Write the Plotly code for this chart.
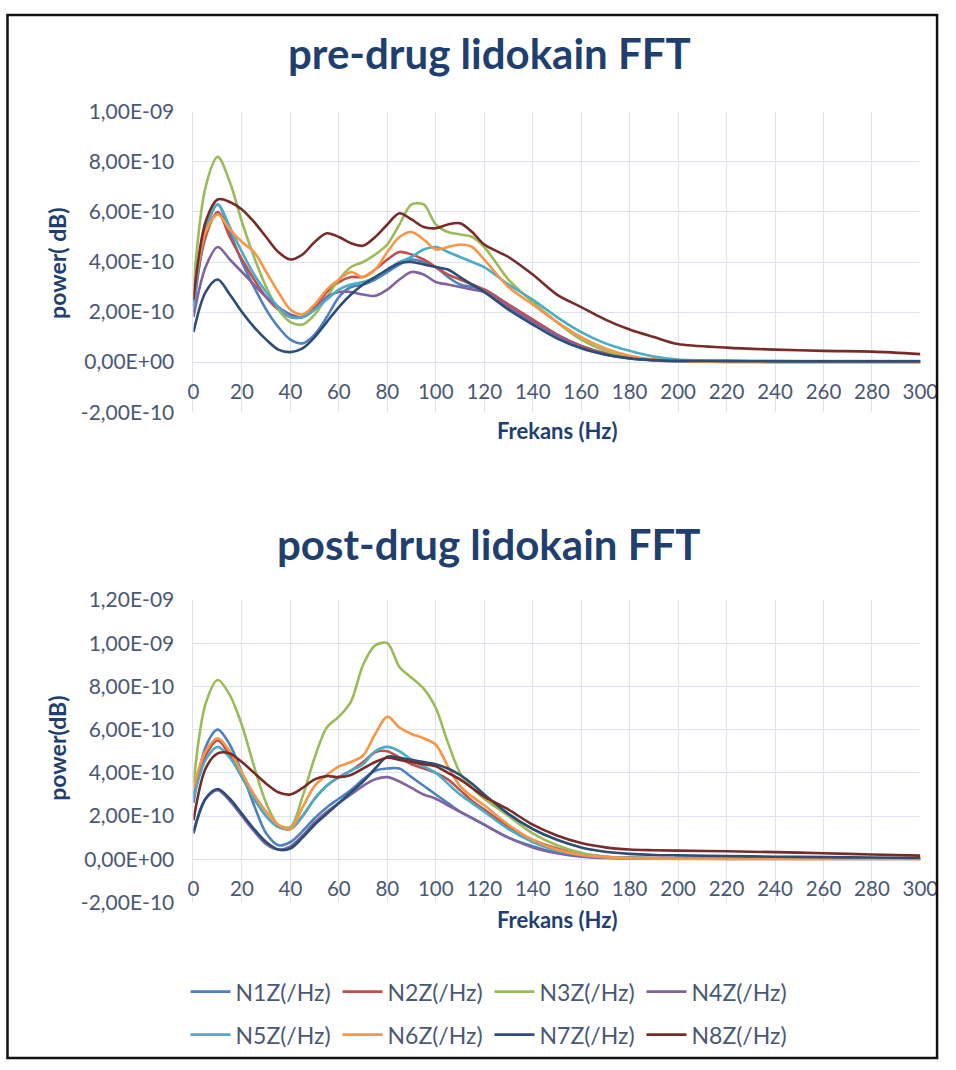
import plotly.graph_objects as go

# Frequency grid (Hz)
freq = [0, 5, 10, 15, 20, 25, 30, 35, 40, 45, 50, 55, 60, 65, 70, 75, 80, 85, 90, 95,
        100, 105, 110, 115, 120, 130, 140, 150, 160, 170, 180, 190, 200, 220, 240, 260, 280, 300]

series_names = ["N1Z(/Hz)", "N2Z(/Hz)", "N3Z(/Hz)", "N4Z(/Hz)",
                "N5Z(/Hz)", "N6Z(/Hz)", "N7Z(/Hz)", "N8Z(/Hz)"]

# Pre-drug spectra, units of 1E-10
pre_n1 = [2.0, 5.2, 6.3, 5.2, 4.0, 3.0, 2.1, 1.4, 0.9, 0.75, 1.1, 1.8, 2.6, 3.0, 3.1, 3.3, 3.6, 3.9, 4.1, 4.0,
          3.8, 3.4, 3.1, 3.0, 2.9, 2.3, 1.7, 1.1, 0.65, 0.35, 0.18, 0.1, 0.06, 0.04, 0.03, 0.03, 0.02, 0.02]
pre_n2 = [2.4, 5.0, 6.0, 5.0, 4.1, 3.3, 2.6, 2.1, 1.8, 1.8, 2.2, 2.8, 3.2, 3.4, 3.4, 3.7, 4.1, 4.4, 4.3, 4.1,
          3.8, 3.5, 3.3, 3.1, 2.9, 2.3, 1.7, 1.1, 0.65, 0.35, 0.18, 0.08, 0.04, 0.03, 0.02, 0.02, 0.02, 0.02]
pre_n3 = [3.0, 7.0, 8.2, 7.2, 5.6, 4.2, 3.0, 2.1, 1.6, 1.5, 1.9, 2.6, 3.3, 3.8, 4.0, 4.3, 4.7, 5.5, 6.3, 6.3,
          5.5, 5.2, 5.1, 5.0, 4.6, 3.3, 2.4, 1.6, 0.9, 0.45, 0.2, 0.08, 0.04, 0.03, 0.03, 0.02, 0.02, 0.02]
pre_n4 = [1.8, 3.8, 4.6, 4.1, 3.6, 3.1, 2.6, 2.2, 1.9, 1.8, 2.1, 2.6, 2.8, 2.8, 2.7, 2.65, 2.9, 3.3, 3.6, 3.5,
          3.2, 3.1, 3.0, 2.9, 2.8, 2.2, 1.6, 1.05, 0.6, 0.3, 0.15, 0.07, 0.04, 0.03, 0.02, 0.02, 0.02, 0.02]
pre_n5 = [2.2, 5.3, 6.3, 5.4, 4.4, 3.5, 2.8, 2.2, 1.8, 1.8, 2.1, 2.5, 2.9, 3.1, 3.2, 3.4, 3.7, 4.0, 4.2, 4.5,
          4.6, 4.4, 4.2, 4.0, 3.8, 3.1, 2.5, 1.8, 1.2, 0.75, 0.45, 0.22, 0.1, 0.06, 0.05, 0.04, 0.04, 0.04]
pre_n6 = [2.6, 5.2, 5.9, 5.3, 4.8, 4.4, 3.6, 2.8, 2.1, 1.9, 2.3, 2.9, 3.3, 3.6, 3.4, 3.7, 4.4, 5.0, 5.2, 4.9,
          4.5, 4.6, 4.7, 4.6, 4.1, 3.0, 2.3, 1.6, 1.0, 0.55, 0.25, 0.1, 0.05, 0.0, -0.01, -0.01, -0.01, -0.01]
pre_n7 = [1.2, 2.8, 3.3, 2.7, 2.0, 1.4, 0.9, 0.5, 0.4, 0.55, 1.0, 1.6, 2.2, 2.7, 3.1, 3.4, 3.7, 3.95, 4.0, 3.9,
          3.8, 3.7, 3.4, 3.1, 2.8, 2.1, 1.5, 0.95, 0.55, 0.3, 0.15, 0.08, 0.05, 0.04, 0.03, 0.03, 0.03, 0.03]
pre_n8 = [2.5, 5.6, 6.5, 6.4, 6.1, 5.6, 5.0, 4.4, 4.1, 4.3, 4.8, 5.15, 5.0, 4.75, 4.65, 5.0, 5.5, 5.95, 5.7, 5.4,
          5.35, 5.5, 5.55, 5.2, 4.7, 4.2, 3.5, 2.7, 2.2, 1.7, 1.3, 1.0, 0.72, 0.58, 0.5, 0.45, 0.42, 0.32]

# Post-drug spectra, units of 1E-10
post_n1 = [2.6, 5.2, 6.0, 5.3, 4.0, 2.5, 1.2, 0.65, 0.8, 1.3, 1.9, 2.4, 2.8, 3.2, 3.7, 4.1, 4.2, 4.2, 3.8, 3.4,
           3.0, 2.6, 2.2, 1.9, 1.6, 1.0, 0.6, 0.3, 0.15, 0.08, 0.05, 0.04, 0.04, 0.03, 0.03, 0.03, 0.03, 0.03]
post_n2 = [3.0, 4.8, 5.5, 4.8, 3.8, 2.8, 2.0, 1.5, 1.4, 2.0, 2.8, 3.4, 3.8, 4.1, 4.5, 4.95, 5.0, 4.7, 4.4, 4.2,
           4.0, 3.7, 3.2, 2.7, 2.3, 1.5, 0.9, 0.5, 0.25, 0.12, 0.08, 0.06, 0.05, 0.04, 0.04, 0.03, 0.03, 0.03]
post_n3 = [3.5, 7.2, 8.3, 7.6, 6.2, 4.3, 2.6, 1.6, 1.5, 2.9, 4.7, 6.1, 6.6, 7.3, 9.0, 9.9, 10.0, 8.9, 8.4, 7.9,
           7.0, 5.4, 4.0, 3.3, 2.8, 2.0, 1.2, 0.65, 0.3, 0.12, 0.06, 0.05, 0.04, 0.04, 0.03, 0.03, 0.03, 0.03]
post_n4 = [1.3, 2.8, 3.2, 2.7, 2.0, 1.3, 0.7, 0.45, 0.6, 1.1, 1.7, 2.2, 2.6, 3.0, 3.4, 3.7, 3.8, 3.6, 3.3, 3.0,
           2.8, 2.5, 2.2, 1.9, 1.6, 1.0, 0.55, 0.28, 0.12, 0.06, 0.04, 0.03, 0.03, 0.02, 0.02, 0.02, 0.02, 0.02]
post_n5 = [2.8, 4.6, 5.2, 4.7, 3.8, 2.8, 2.0, 1.5, 1.4, 2.0, 2.8, 3.4, 3.8, 4.1, 4.4, 5.0, 5.2, 5.0, 4.6, 4.3,
           4.0, 3.5, 3.0, 2.6, 2.2, 1.4, 0.8, 0.4, 0.2, 0.1, 0.06, 0.05, 0.04, 0.04, 0.03, 0.03, 0.03, 0.03]
post_n6 = [3.3, 5.0, 5.6, 5.0, 4.0, 3.0, 2.2, 1.6, 1.4, 2.4, 3.4, 3.9, 4.3, 4.5, 4.8, 5.8, 6.6, 6.1, 5.8, 5.6,
           5.3, 4.3, 3.4, 2.9, 2.5, 1.6, 0.9, 0.45, 0.2, 0.1, 0.05, 0.03, 0.02, 0.01, 0.01, 0.01, 0.01, 0.01]
post_n7 = [1.2, 2.8, 3.25, 2.8, 2.1, 1.4, 0.8, 0.45, 0.5, 1.0, 1.6, 2.1, 2.6, 3.1, 3.6, 4.2, 4.75, 4.7, 4.6, 4.5,
           4.4, 4.2, 3.9, 3.5, 3.0, 2.1, 1.4, 0.9, 0.55, 0.35, 0.25, 0.2, 0.18, 0.15, 0.12, 0.1, 0.08, 0.06]
post_n8 = [1.8, 4.2, 4.9, 4.9, 4.5, 4.0, 3.5, 3.1, 3.0, 3.3, 3.7, 3.85, 3.8, 3.9, 4.2, 4.5, 4.7, 4.6, 4.5, 4.4,
           4.3, 4.0, 3.7, 3.3, 2.9, 2.3, 1.6, 1.1, 0.75, 0.55, 0.45, 0.42, 0.4, 0.37, 0.33, 0.28, 0.22, 0.17]

pre_series = [pre_n1, pre_n2, pre_n3, pre_n4, pre_n5, pre_n6, pre_n7, pre_n8]
post_series = [post_n1, post_n2, post_n3, post_n4, post_n5, post_n6, post_n7, post_n8]

x_tick_vals = [0, 20, 40, 60, 80, 100, 120, 140, 160, 180, 200, 220, 240, 260, 280, 300]
pre_y_vals = [-2e-10, 0, 2e-10, 4e-10, 6e-10, 8e-10, 1e-9]
pre_y_text = ["-2,00E-10", "0,00E+00", "2,00E-10", "4,00E-10", "6,00E-10", "8,00E-10", "1,00E-09"]
post_y_vals = [-2e-10, 0, 2e-10, 4e-10, 6e-10, 8e-10, 1e-9, 1.2e-9]
post_y_text = ["-2,00E-10", "0,00E+00", "2,00E-10", "4,00E-10", "6,00E-10", "8,00E-10", "1,00E-09", "1,20E-09"]

colors = ["#4F81BD", "#C0504D", "#9BBB59", "#8064A2", "#4BACC6", "#F79646", "#2C4D75", "#772C2A"]

UNIT = 1e-10
W, H = 956, 1070
FONT = "Lato"
TICK_COLOR = "#4A5873"
TITLE_COLOR = "#1F3F6E"
GRID = "#DCE2EE"

# Layout positions are given on a design grid that is offset and slightly
# scaled relative to the figure's own pixel grid.
GRID_SCALE = 0.975
GRID_OX, GRID_OY = 5.5, 14.0


def px(gx):
    """Design-grid column -> paper x."""
    return min(max((gx - GRID_OX) / GRID_SCALE / W, 0.001), 0.999)


def py(gy):
    """Design-grid row -> paper y."""
    return min(max(1 - (gy - GRID_OY) / GRID_SCALE / H, 0.001), 0.999)


x_dom = [px(193), px(920)]
top_dom = [py(411.5), py(111.7)]
bot_dom = [py(901), py(599)]
top_range = [-2e-10, 1e-9]
bot_range = [-2e-10, 1.2e-9]

fig = go.Figure()

for i, (name, vals) in enumerate(zip(series_names, pre_series)):
    fig.add_trace(go.Scatter(
        x=freq, y=[v * UNIT for v in vals], name=name, mode="lines",
        line=dict(color=colors[i], width=2.6, shape="spline", smoothing=0.9),
        xaxis="x", yaxis="y", showlegend=True,
        legend="legend" if i < 4 else "legend2",
    ))

for i, (name, vals) in enumerate(zip(series_names, post_series)):
    fig.add_trace(go.Scatter(
        x=freq, y=[v * UNIT for v in vals], name=name, mode="lines",
        line=dict(color=colors[i], width=2.6, shape="spline", smoothing=0.9),
        xaxis="x2", yaxis="y2", showlegend=False,
    ))


def zero_pos(dom, rng):
    return dom[0] + (dom[1] - dom[0]) * (0 - rng[0]) / (rng[1] - rng[0])


grid_x = dict(range=[0, 300], tickvals=x_tick_vals, showticklabels=False, showgrid=True,
              gridcolor=GRID, gridwidth=1, zeroline=False, showline=False, ticks="")
label_x = dict(range=[0, 300], tickvals=x_tick_vals, showgrid=False, zeroline=False,
               showline=False, ticks="outside", ticklen=11, tickcolor="rgba(0,0,0,0)",
               tickfont=dict(family=FONT, size=20.5, color=TICK_COLOR), anchor="free",
               ticklabeloverflow="allow")
grid_y = dict(showgrid=True, gridcolor=GRID, gridwidth=1, zeroline=False, showline=True,
              linecolor=GRID, ticks="outside", ticklen=14, tickcolor="rgba(0,0,0,0)",
              tickfont=dict(family=FONT, size=21, color=TICK_COLOR))

legend_common = dict(orientation="h", x=px(185), xanchor="left", yanchor="middle",
                     font=dict(family=FONT, size=23, color=TICK_COLOR), bgcolor="rgba(0,0,0,0)",
                     entrywidth=97, entrywidthmode="pixels", itemwidth=40)

fig.update_layout(
    width=W, height=H,
    margin=dict(l=0, r=0, t=0, b=0),
    paper_bgcolor="white", plot_bgcolor="white",
    xaxis=dict(domain=x_dom, anchor="y", **grid_x),
    yaxis=dict(domain=top_dom, range=top_range, tickvals=pre_y_vals, ticktext=pre_y_text,
               anchor="x", **grid_y),
    xaxis2=dict(domain=x_dom, anchor="y2", **grid_x),
    yaxis2=dict(domain=bot_dom, range=bot_range, tickvals=post_y_vals, ticktext=post_y_text,
                anchor="x2", **grid_y),
    xaxis3=dict(domain=x_dom, overlaying="x", position=zero_pos(top_dom, top_range), **label_x),
    xaxis4=dict(domain=x_dom, overlaying="x2", position=zero_pos(bot_dom, bot_range), **label_x),
    legend=dict(y=py(990), **legend_common),
    legend2=dict(y=py(1033), **legend_common),
    showlegend=True,
)

# Invisible anchor traces so the tick-label axes are rendered
fig.add_trace(go.Scatter(x=[0, 300], y=[0, 0], xaxis="x3", yaxis="y", mode="lines",
                         line=dict(width=0), showlegend=False, hoverinfo="skip"))
fig.add_trace(go.Scatter(x=[0, 300], y=[0, 0], xaxis="x4", yaxis="y2", mode="lines",
                         line=dict(width=0), showlegend=False, hoverinfo="skip"))

title_font = dict(family=FONT, size=42, color=TITLE_COLOR)
axis_font = dict(family=FONT, size=22, color=TITLE_COLOR)
ytitle_font = dict(family=FONT, size=23, color=TITLE_COLOR)
fig.add_annotation(text="<b>pre-drug lidokain FFT</b>", x=px(489), y=py(53), xref="paper", yref="paper",
                   showarrow=False, font=title_font, xanchor="center", yanchor="middle")
fig.add_annotation(text="<b>post-drug lidokain FFT</b>", x=px(488), y=py(543), xref="paper", yref="paper",
                   showarrow=False, font=title_font, xanchor="center", yanchor="middle")
fig.add_annotation(text="<b>Frekans (Hz)</b>", x=px(557), y=py(430), xref="paper", yref="paper",
                   showarrow=False, font=axis_font, xanchor="center", yanchor="middle")
fig.add_annotation(text="<b>Frekans (Hz)</b>", x=px(557), y=py(918), xref="paper", yref="paper",
                   showarrow=False, font=axis_font, xanchor="center", yanchor="middle")
fig.add_annotation(text="<b>power( dB)</b>", x=px(57), y=py(263), xref="paper", yref="paper",
                   showarrow=False, font=ytitle_font, textangle=-90, xanchor="center", yanchor="middle")
fig.add_annotation(text="<b>power(dB)</b>", x=px(57), y=py(747), xref="paper", yref="paper",
                   showarrow=False, font=ytitle_font, textangle=-90, xanchor="center", yanchor="middle")

# Outer frame
fig.add_shape(type="rect", xref="paper", yref="paper", x0=px(7), x1=px(951), y0=py(1065), y1=py(5),
              line=dict(color="#111111", width=2.5), fillcolor="rgba(0,0,0,0)")

fig.write_html("out.html")
